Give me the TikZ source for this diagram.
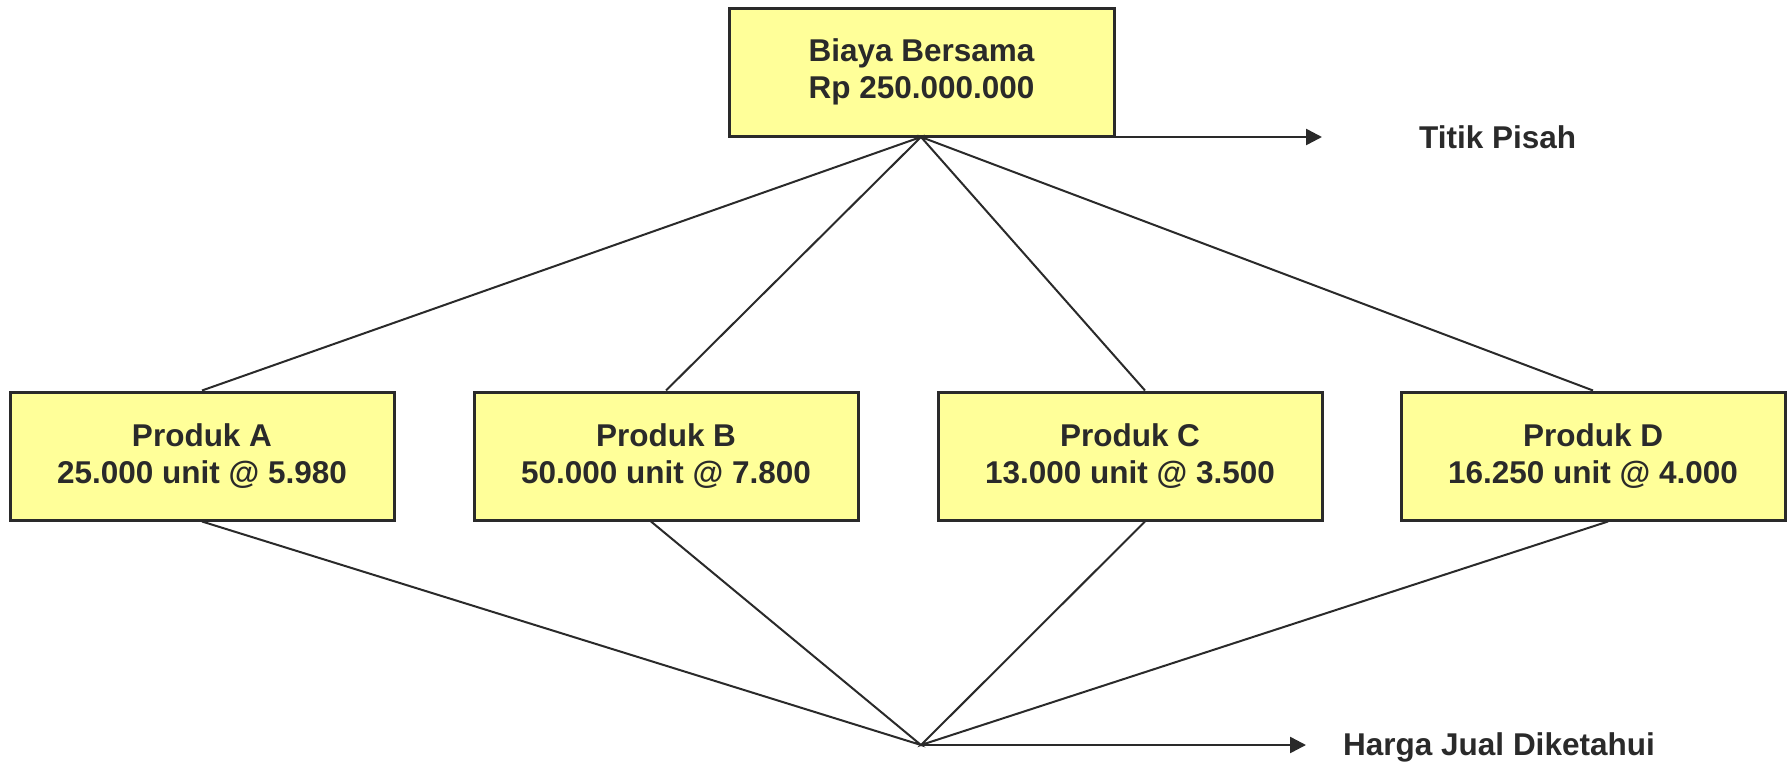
\documentclass[tikz,border=0pt]{standalone}
\usepackage{fontspec}
\setmainfont{Liberation Sans}
\usetikzlibrary{arrows.meta}
\definecolor{boxfill}{HTML}{FFFF99}
\definecolor{ink}{HTML}{2A2A2A}
\begin{document}
\begin{tikzpicture}[x=1pt,y=-1pt,
  every node/.style={text=ink, font=\fontsize{31.5}{37}\selectfont\bfseries},
  prodbox/.style={draw=ink, fill=boxfill, line width=3pt, minimum width=384pt, minimum height=128pt, inner sep=0pt, align=center},
  link/.style={draw=ink, line width=2pt},
  outarrow/.style={draw=ink, line width=2.5pt, -{Triangle[length=16pt,width=16pt]}},
  label/.style={inner sep=0pt}
]
\useasboundingbox (0,0) rectangle (1791,763);
\node[prodbox, minimum width=385pt] (top) at (921.5,72) {Biaya Bersama\\Rp 250.000.000};
\node[prodbox] (A) at (202,456) {Produk A\\25.000 unit @ 5.980};
\node[prodbox] (B) at (666,456) {Produk B\\50.000 unit @ 7.800};
\node[prodbox] (C) at (1130,456) {Produk C\\13.000 unit @ 3.500};
\node[prodbox] (D) at (1593,456) {Produk D\\16.250 unit @ 4.000};
\coordinate (split) at (921,137);
\coordinate (join) at (921,745);
\coordinate (splitend) at (1322,137);
\coordinate (joinend) at (1306,745);
\node[label, anchor=base west] (titik) at (1419,148) {Titik Pisah};
\node[label, anchor=base west] (harga) at (1343,755) {Harga Jual Diketahui};
\draw[link] (A.north) -- (split) -- (B.north);
\draw[link] ([xshift=15pt]C.north) -- (split) -- (D.north);
\draw[link] (A.south) -- (join) -- ([xshift=-15pt]B.south);
\draw[link] ([xshift=15pt]C.south) -- (join) -- ([xshift=15pt]D.south);
\draw[outarrow] (split) -- (splitend);
\draw[outarrow] (join) -- (joinend);
\end{tikzpicture}
\end{document}
